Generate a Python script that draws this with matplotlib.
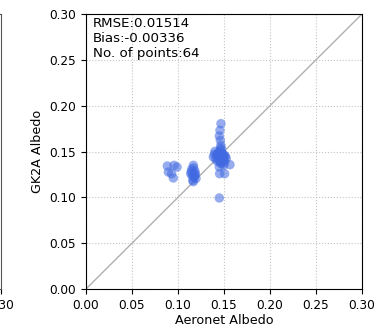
import matplotlib
matplotlib.use("Agg")
import matplotlib.pyplot as plt
import numpy as np

# Aeronet (x) vs GK2A (y) albedo
aeronet = [0.0884, 0.0957, 0.0895, 0.0931, 0.0949, 0.0990,
           0.1167, 0.1149, 0.1185, 0.1138, 0.1178, 0.1160, 0.1196, 0.1167,
           0.1170, 0.1155, 0.1180, 0.1145, 0.1190, 0.1172,
           0.1467, 0.1456, 0.1449, 0.1460, 0.1467, 0.1474, 0.1402, 0.1420,
           0.1485, 0.1507, 0.1449, 0.1496, 0.1384, 0.1525, 0.1565, 0.1449,
           0.1496, 0.1452, 0.1507, 0.1449, 0.1440, 0.1470, 0.1480, 0.1430,
           0.1460, 0.1490, 0.1410, 0.1455, 0.1475, 0.1500, 0.1435, 0.1465,
           0.1445, 0.1485, 0.1395, 0.1515, 0.1458, 0.1478, 0.1438, 0.1468,
           0.1492, 0.1425, 0.1505, 0.1462]
gk2a = [0.1342, 0.1349, 0.1276, 0.1258, 0.1211, 0.1330,
        0.1349, 0.1306, 0.1284, 0.1258, 0.1233, 0.1186, 0.1206, 0.1171,
        0.1320, 0.1240, 0.1260, 0.1280, 0.1250, 0.1215,
        0.1804, 0.1731, 0.1669, 0.1622, 0.1567, 0.1524, 0.1502, 0.1465,
        0.1476, 0.1458, 0.1422, 0.1404, 0.1440, 0.1422, 0.1356, 0.1331,
        0.1349, 0.1258, 0.1258, 0.0993, 0.1450, 0.1430, 0.1440, 0.1470,
        0.1410, 0.1460, 0.1420, 0.1390, 0.1480, 0.1400, 0.1455, 0.1380,
        0.1495, 0.1435, 0.1470, 0.1445, 0.1510, 0.1415, 0.1425, 0.1370,
        0.1450, 0.1395, 0.1375, 0.1540]

rmse = "0.01514"
bias = "-0.00336"
npts = 64
ticks = [0.00, 0.05, 0.10, 0.15, 0.20, 0.25, 0.30]
tick_labels = ["0.00", "0.05", "0.10", "0.15", "0.20", "0.25", "0.30"]

W, H = 374, 331
fig = plt.figure(figsize=(W / 100, H / 100), dpi=100)

ax_l, ax_b, ax_w, ax_h = 86 / W, (H - 289) / H, 276 / W, 275 / H

# partially visible neighbouring panel on the left
axp = fig.add_axes([(1 - 276) / W, ax_b, ax_w, ax_h])
axp.set_xlim(0, 0.3)
axp.set_ylim(0, 0.3)
axp.set_xticks(ticks)
axp.set_xticklabels(tick_labels, fontsize=8.7)
axp.set_yticks(ticks)
axp.set_yticklabels([])
for s in axp.spines.values():
    s.set_color("#555555")

ax = fig.add_axes([ax_l, ax_b, ax_w, ax_h])
ax.plot([0, 0.3], [0, 0.3], color="#b0b0b0", lw=1, zorder=1)
ax.scatter(aeronet, gk2a, s=46, color="royalblue", alpha=0.55,
           edgecolors="none", zorder=3)
ax.set_xlim(0, 0.3)
ax.set_ylim(0, 0.3)
ax.set_xticks(ticks)
ax.set_xticklabels(tick_labels, fontsize=8.7)
ax.set_yticks(ticks)
ax.set_yticklabels(tick_labels, fontsize=8.7)
ax.grid(True, linestyle=":", color="#c4c4c4", lw=0.8, zorder=0)
ax.set_axisbelow(True)
ax.set_xlabel("Aeronet Albedo", fontsize=9.2, labelpad=2)
ax.set_ylabel("GK2A Albedo", fontsize=9.2, labelpad=4)
ax.text(0.025, 0.99, f"RMSE:{rmse}\nBias:{bias}\nNo. of points:{npts}",
        transform=ax.transAxes, va="top", ha="left", fontsize=9.6,
        linespacing=1.2)

fig.savefig("out.png", dpi=100)
